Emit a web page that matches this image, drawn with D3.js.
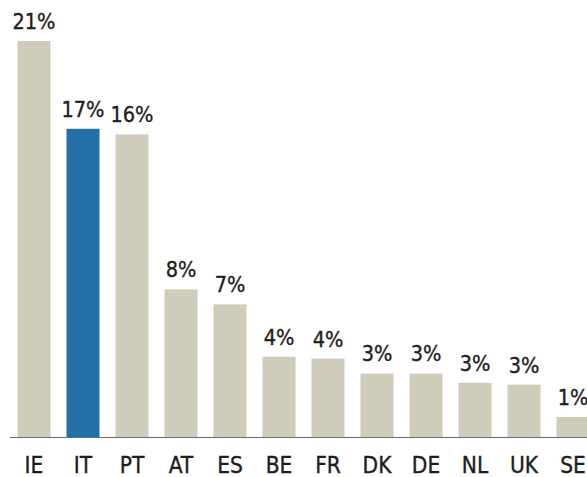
<!DOCTYPE html>
<html><head><meta charset="utf-8">
<script src="https://cdn.jsdelivr.net/npm/d3@7"></script>
<style>body{margin:0;background:#fff}svg{display:block}</style>
</head><body><svg id="c" width="587" height="477"></svg>
<script>
const categories = ["IE","IT","PT","AT","ES","BE","FR","DK","DE","NL","UK","SE"];
const values = [21.2,16.5,16.2,7.9,7.1,4.3,4.2,3.4,3.4,2.9,2.8,1.07];
const valueLabels = ["21%","17%","16%","8%","7%","4%","4%","3%","3%","3%","3%","1%"];
const highlight = "IT";

const svg = d3.select("#c");
const baseY = 437, topY = 41;
const x = d3.scaleBand().domain(categories).range([17.5, 589.5]).paddingInner(0.3265).paddingOuter(0);
const y = d3.scaleLinear().domain([0, 21.2]).range([baseY, topY]);
const font = "'DejaVu Sans Condensed', 'DejaVu Sans', sans-serif";

svg.selectAll("rect.bar").data(categories).join("rect")
  .attr("x", d => x(d)).attr("width", x.bandwidth())
  .attr("y", (d,i) => y(values[i])).attr("height", (d,i) => baseY - y(values[i]))
  .attr("fill", d => d === highlight ? "#236fa8" : "#d0ccbc");

svg.append("line").attr("x1", 10).attr("x2", 587).attr("y1", baseY+0.5).attr("y2", baseY+0.5)
  .attr("stroke", "#6b6b6b").attr("stroke-width", 1);

svg.selectAll("text.val").data(categories).join("text")
  .attr("x", d => x(d) + x.bandwidth()/2).attr("y", (d,i) => y(values[i]) - 12)
  .attr("text-anchor", "middle").attr("font-family", font).attr("font-size", 21.5)
  .attr("fill", "#1e1e1e").attr("stroke", "#1e1e1e").attr("stroke-width", 0.35)
  .text((d,i) => valueLabels[i]);

svg.selectAll("text.cat").data(categories).join("text")
  .attr("x", d => x(d) + x.bandwidth()/2).attr("y", 472.5)
  .attr("text-anchor", "middle").attr("font-family", font).attr("font-size", 22.5)
  .attr("fill", "#1e1e1e").attr("stroke", "#1e1e1e").attr("stroke-width", 0.35)
  .text(d => d);
</script></body></html>
